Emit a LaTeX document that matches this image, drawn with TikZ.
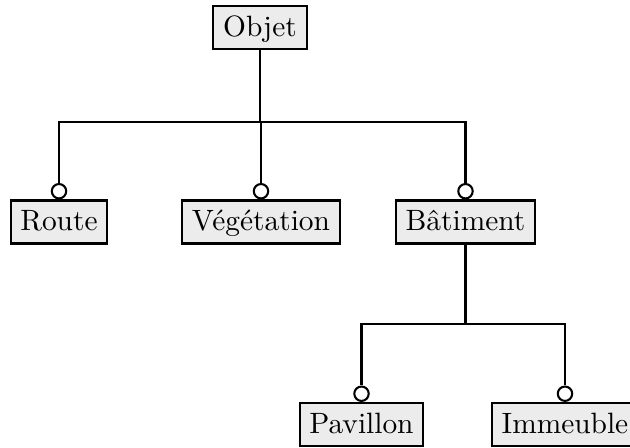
\documentclass[tikz,border=0pt]{standalone}
\begin{document}
\begin{tikzpicture}[x=0.34pt,y=-0.34pt,
  cls/.style={draw, fill=gray!15, line width=0.7pt, text height=1.6ex, text depth=0.25ex, inner sep=0.333em},
  circ/.style={draw, fill=white, circle, line width=0.7pt, minimum size=4.9pt, inner sep=0pt, anchor=south},
  conn/.style={line width=0.7pt}]
\useasboundingbox (0,0) rectangle (630,448);
\node[cls] (objet) at (260,27.5) {Objet};
\node[cls] (route) at (59,222) {Route};
\node[cls] (veg) at (261,222) {Végétation};
\node[cls] (bat) at (465.5,222) {Bâtiment};
\node[cls] (pav) at (361.5,424.5) {Pavillon};
\node[cls] (imm) at (565,424.5) {Immeuble};
\node[circ] (croute) at (route.north) {};
\node[circ] (cveg) at (veg.north) {};
\node[circ] (cbat) at (bat.north) {};
\node[circ] (cpav) at (pav.north) {};
\node[circ] (cimm) at (imm.north) {};
\coordinate (j1) at (objet.south |- 0,122);
\coordinate (j2) at (bat.south |- 0,324);
\draw[conn] (objet.south) -- (j1);
\draw[conn] (j1) -| (croute.north);
\draw[conn] (j1) -| (cbat.north);
\draw[conn] (cveg.north) -- (cveg.north |- j1);
\draw[conn] (bat.south) -- (j2);
\draw[conn] (j2) -| (cpav.north);
\draw[conn] (j2) -| (cimm.north);
\end{tikzpicture}
\end{document}
